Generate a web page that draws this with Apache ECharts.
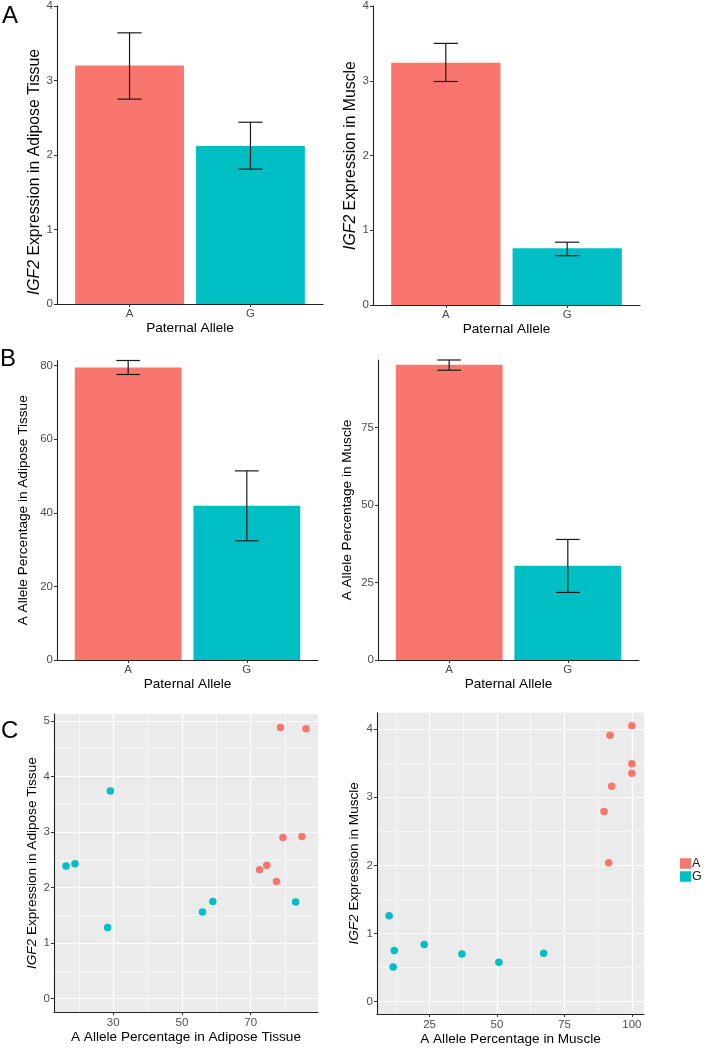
<!DOCTYPE html>
<html>
<head>
<meta charset="utf-8">
<script src="https://cdn.jsdelivr.net/npm/echarts@6/dist/echarts.min.js"></script>
<style>
html,body{margin:0;padding:0;background:#fff;}
#chart{width:708px;height:1048px;}
</style>
</head>
<body>
<div id="chart"></div>
<script>
// ---------- data ----------
const alleleCats = ['A', 'G'];
// Panel A: IGF2 expression (mean, lower, upper)
const adiposeExprMean = [3.20, 2.12];
const adiposeExprLow  = [2.75, 1.81];
const adiposeExprHigh = [3.64, 2.44];
const muscleExprMean  = [3.24, 0.76];
const muscleExprLow   = [2.99, 0.66];
const muscleExprHigh  = [3.50, 0.84];
// Panel B: A allele percentage (mean, lower, upper)
const adiposePctMean = [79.5, 41.9];
const adiposePctLow  = [77.6, 32.4];
const adiposePctHigh = [81.4, 51.4];
const musclePctMean  = [95.3, 30.4];
const musclePctLow   = [93.5, 21.8];
const musclePctHigh  = [96.8, 38.9];
// Panel C: scatter [A allele %, IGF2 expression]
const adiposeScatterA = [[78.7,4.88],[86.1,4.86],[79.4,2.90],[84.9,2.92],[72.6,2.32],[74.7,2.40],[77.5,2.11]];
const adiposeScatterG = [[16.3,2.39],[18.9,2.43],[29.2,3.74],[28.4,1.28],[56.0,1.56],[59.0,1.75],[83.1,1.74]];
const muscleScatterA  = [[100,4.05],[91.9,3.91],[100,3.49],[100,3.35],[92.5,3.16],[89.7,2.79],[91.4,2.04]];
const muscleScatterG  = [[10.0,1.26],[11.9,0.75],[11.5,0.51],[23.0,0.84],[37.0,0.70],[50.7,0.58],[67.3,0.71]];
// tick labels
const exprTicks = [0, 1, 2, 3, 4];
const adiposePctTicks = [0, 20, 40, 60, 80];
const musclePctTicks = [0, 25, 50, 75];
const cAdiposeXTicks = [30, 50, 70];
const cAdiposeXMinor = [20, 40, 60, 80];
const cAdiposeYTicks = [0, 1, 2, 3, 4, 5];
const cAdiposeYMinor = [0.5, 1.5, 2.5, 3.5, 4.5];
const cMuscleXTicks = [25, 50, 75, 100];
const cMuscleXMinor = [12.5, 37.5, 62.5, 87.5];
const cMuscleYTicks = [0, 1, 2, 3, 4];
const cMuscleYMinor = [0.5, 1.5, 2.5, 3.5];

// ---------- styles ----------
const FONT = '"Liberation Sans", Arial, sans-serif';
const COLORS = {A: '#F8766D', G: '#00BFC4'};
const alleleColors = [COLORS.A, COLORS.G];
const TITLE_SIZE = 13.6;
const BIG_TITLE = 15.8;
const TICK_SIZE = 11.5;

const chart = echarts.init(document.getElementById('chart'), null, {renderer: 'canvas'});

const grids = [
  {left: 57,  top: 5,     width: 266, height: 299},
  {left: 373, top: 5,     width: 267, height: 300},
  {left: 57,  top: 360.5, width: 261, height: 299.5},
  {left: 378, top: 360,   width: 261, height: 300},
  {left: 54,  top: 714,   width: 264, height: 298.3, show: true, backgroundColor: '#EBEBEB', borderWidth: 0},
  {left: 377, top: 712.7, width: 267, height: 301.3, show: true, backgroundColor: '#EBEBEB', borderWidth: 0}
];

function titleStyle(size, extra) {
  return Object.assign({fontSize: size, fontFamily: FONT, color: '#000', rich: {
    i: {fontStyle: 'italic', fontSize: size, fontFamily: FONT, color: '#000'},
    n: {fontSize: size, fontFamily: FONT, color: '#000'}
  }}, extra || {});
}

function mainAxis(grid, opts) {
  return Object.assign({
    type: 'value', gridIndex: grid,
    nameLocation: 'middle',
    nameTextStyle: titleStyle(TITLE_SIZE),
    axisLine: {show: true, onZero: false, lineStyle: {color: '#222', width: 1.1}},
    axisTick: {show: true, length: 3, lineStyle: {color: '#333', width: 1}},
    axisLabel: {fontSize: TICK_SIZE, color: '#4D4D4D', fontFamily: FONT, margin: 4},
    splitLine: {show: false}
  }, opts);
}
function ticks(vals) {
  return {show: true, length: 3, customValues: vals, lineStyle: {color: '#333'}};
}
function labels(vals, margin, fmt) {
  const o = {customValues: vals, fontSize: TICK_SIZE, color: '#4D4D4D', fontFamily: FONT, margin: margin};
  if (fmt) o.formatter = fmt;
  return o;
}
function minorAxis(grid, min, max, vals) {
  return {
    type: 'value', gridIndex: grid, min: min, max: max,
    axisLine: {show: false}, axisLabel: {show: false},
    axisTick: {show: false, customValues: vals},
    splitLine: {show: true, lineStyle: {color: '#FFFFFF', width: 0.7, opacity: 0.85}}
  };
}
const majorGrid = {show: true, lineStyle: {color: '#FFFFFF', width: 1.2}};

const catFormatter = v => alleleCats[Math.round(v) - 1];

const xAxes = [];
const yAxes = [];
// Bar panels (0..3)
[0, 1, 2, 3].forEach(g => {
  xAxes.push(mainAxis(g, {
    min: 0.4, max: 2.6, name: 'Paternal Allele', nameGap: g < 2 ? 17 : 15,
    axisTick: ticks([1, 2]),
    axisLabel: labels([1, 2], 4, catFormatter)
  }));
});
yAxes.push(mainAxis(0, {min: 0, max: 4, name: '{i|IGF2}{n| Expression in Adipose Tissue}', nameGap: 13,
  nameTextStyle: titleStyle(BIG_TITLE, {padding: [0, 34, 0, 0]}),
  axisTick: ticks(exprTicks), axisLabel: labels(exprTicks, 4)}));
yAxes.push(mainAxis(1, {min: 0, max: 4, name: '{i|IGF2}{n| Expression in Muscle}', nameGap: 13,
  nameTextStyle: titleStyle(BIG_TITLE),
  axisTick: ticks(exprTicks), axisLabel: labels(exprTicks, 4)}));
yAxes.push(mainAxis(2, {min: 0, max: 81.4, name: 'A Allele Percentage in Adipose Tissue', nameGap: 27,
  axisTick: ticks(adiposePctTicks), axisLabel: labels(adiposePctTicks, 4)}));
yAxes.push(mainAxis(3, {min: 0, max: 96.8, name: 'A Allele Percentage in Muscle', nameGap: 24,
  axisTick: ticks(musclePctTicks), axisLabel: labels(musclePctTicks, 4)}));

// Scatter panels: main axes (index 4,5) and minor grid axes (6,7)
xAxes.push(mainAxis(4, {min: 12.8, max: 89.6, name: 'A Allele Percentage in Adipose Tissue', nameGap: 18,
  axisTick: ticks(cAdiposeXTicks), axisLabel: labels(cAdiposeXTicks, 5), splitLine: majorGrid}));
xAxes.push(mainAxis(5, {min: 5.5, max: 104.5, name: 'A Allele Percentage in Muscle', nameGap: 18,
  axisTick: ticks(cMuscleXTicks), axisLabel: labels(cMuscleXTicks, 5), splitLine: majorGrid}));
yAxes.push(mainAxis(4, {min: -0.244, max: 5.124, name: '{i|IGF2}{n| Expression in Adipose Tissue}', nameGap: 11,
  axisTick: ticks(cAdiposeYTicks), axisLabel: labels(cAdiposeYTicks, 4), splitLine: majorGrid}));
yAxes.push(mainAxis(5, {min: -0.18, max: 4.24, name: '{i|IGF2}{n| Expression in Muscle}', nameGap: 16,
  axisTick: ticks(cMuscleYTicks), axisLabel: labels(cMuscleYTicks, 4), splitLine: majorGrid}));
xAxes.push(minorAxis(4, 12.8, 89.6, cAdiposeXMinor));
xAxes.push(minorAxis(5, 5.5, 104.5, cMuscleXMinor));
yAxes.push(minorAxis(4, -0.244, 5.124, cAdiposeYMinor));
yAxes.push(minorAxis(5, -0.18, 4.24, cMuscleYMinor));

// ---------- series ----------
function barSeries(axisIdx, means, nm) {
  return {
    type: 'custom', name: nm, xAxisIndex: axisIdx, yAxisIndex: axisIdx, z: 2,
    data: means.map((m, i) => [i + 1, m]),
    encode: {x: 0, y: 1},
    renderItem: function (params, api) {
      const x = api.value(0), y = api.value(1);
      const p0 = api.coord([x - 0.45, 0]);
      const p1 = api.coord([x + 0.45, y]);
      return {type: 'rect', shape: {x: p0[0], y: p1[1], width: p1[0] - p0[0], height: p0[1] - p1[1]},
        style: {fill: alleleColors[params.dataIndex]}};
    }
  };
}
function errSeries(axisIdx, lows, highs, nm) {
  return {
    type: 'custom', name: nm, xAxisIndex: axisIdx, yAxisIndex: axisIdx, z: 3,
    data: lows.map((l, i) => [i + 1, l, highs[i]]),
    encode: {x: 0, y: [1, 2]},
    renderItem: function (params, api) {
      const x = api.value(0);
      const lo = api.coord([x, api.value(1)]);
      const hi = api.coord([x, api.value(2)]);
      const half = api.size([0.1, 0])[0];
      const st = {stroke: '#1A1A1A', lineWidth: 1.2};
      return {type: 'group', children: [
        {type: 'line', shape: {x1: lo[0], y1: lo[1], x2: hi[0], y2: hi[1]}, style: st},
        {type: 'line', shape: {x1: hi[0] - half, y1: hi[1], x2: hi[0] + half, y2: hi[1]}, style: st},
        {type: 'line', shape: {x1: lo[0] - half, y1: lo[1], x2: lo[0] + half, y2: lo[1]}, style: st}
      ]};
    }
  };
}
function scatter(axisIdx, data, allele) {
  return {type: 'scatter', name: allele, xAxisIndex: axisIdx, yAxisIndex: axisIdx, z: 4,
    data: data, symbolSize: 7.5, itemStyle: {color: COLORS[allele], opacity: 1}};
}

const series = [
  barSeries(0, adiposeExprMean, 'bar-adipose-expr'), errSeries(0, adiposeExprLow, adiposeExprHigh, 'err-adipose-expr'),
  barSeries(1, muscleExprMean, 'bar-muscle-expr'), errSeries(1, muscleExprLow, muscleExprHigh, 'err-muscle-expr'),
  barSeries(2, adiposePctMean, 'bar-adipose-pct'), errSeries(2, adiposePctLow, adiposePctHigh, 'err-adipose-pct'),
  barSeries(3, musclePctMean, 'bar-muscle-pct'), errSeries(3, musclePctLow, musclePctHigh, 'err-muscle-pct'),
  scatter(4, adiposeScatterA, 'A'), scatter(4, adiposeScatterG, 'G'),
  scatter(5, muscleScatterA, 'A'), scatter(5, muscleScatterG, 'G')
];

const panelLetter = (txt, x, y) => ({type: 'text', left: x, top: y,
  style: {text: txt, fontSize: 24, fontFamily: FONT, fill: '#000'}});

chart.setOption({
  animation: false,
  backgroundColor: '#fff',
  textStyle: {fontFamily: FONT},
  grid: grids,
  xAxis: xAxes,
  yAxis: yAxes,
  legend: {
    data: ['A', 'G'], orient: 'vertical', left: 680, top: 857, padding: 0,
    itemWidth: 11, itemHeight: 10.5, itemGap: 0, icon: 'rect', selectedMode: false,
    textStyle: {fontSize: 12.5, color: '#222', fontFamily: FONT, padding: [0, 0, 0, -4]}
  },
  graphic: [
    panelLetter('A', 2, 4),
    panelLetter('B', 0, 347),
    panelLetter('C', 1, 719)
  ],
  series: series
});
</script>
</body>
</html>
